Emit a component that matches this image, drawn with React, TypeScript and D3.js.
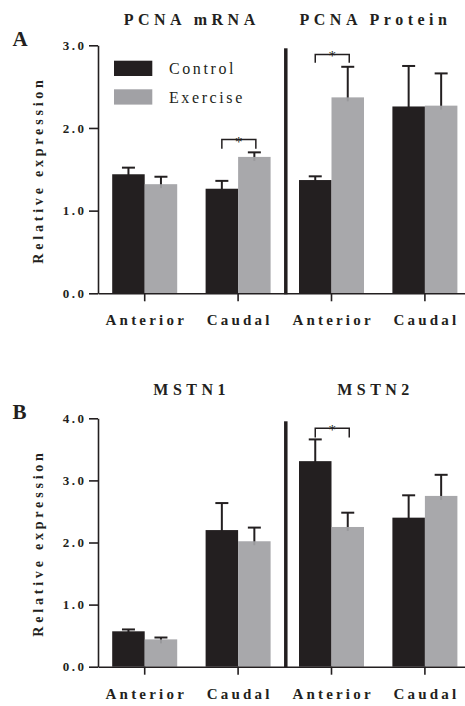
import { useRef, useEffect } from 'react'
import * as d3 from 'd3'

// Group labels along the x axis (two genes per panel, two regions each)
const groups = ['Anterior', 'Caudal', 'Anterior', 'Caudal']
const series = ['Control', 'Exercise']

// Panel A: PCNA mRNA / PCNA Protein
const titlesA = ['PCNA mRNA', 'PCNA Protein']
const controlA = [1.44, 1.265, 1.37, 2.26]
const controlErrA = [0.08, 0.095, 0.045, 0.49]
const exerciseA = [1.32, 1.65, 2.37, 2.27]
const exerciseErrA = [0.09, 0.055, 0.37, 0.39]
const ticksA = [0, 1, 2, 3]
const sigA = [
  { group: 1, top: 1.86, leg: 1.75 },
  { group: 2, top: 2.89, leg: 2.79 },
]

// Panel B: MSTN1 / MSTN2
const titlesB = ['MSTN1', 'MSTN2']
const controlB = [0.57, 2.2, 3.31, 2.4]
const controlErrB = [0.03, 0.435, 0.35, 0.36]
const exerciseB = [0.44, 2.02, 2.25, 2.75]
const exerciseErrB = [0.03, 0.22, 0.23, 0.34]
const ticksB = [0, 1, 2, 3, 4]
const sigB = [{ group: 2, top: 3.84, leg: 3.69 }]

const COLORS = { Control: '#231f20', Exercise: '#a1a1a5' }
const FONT = 'Liberation Serif, Times New Roman, DejaVu Serif'
const INK = '#231f20'

type Sig = { group: number; top: number; leg: number }

function drawPanel(
  svg: d3.Selection<SVGSVGElement, unknown, null, undefined>,
  opts: {
    letter: string
    letterY: number
    titles: string[]
    titleY: number
    control: number[]
    controlErr: number[]
    exercise: number[]
    exerciseErr: number[]
    ticks: number[]
    sig: Sig[]
    yTop: number
    yBottom: number
    labelY: number
  }
) {
  const x = d3.scaleBand<number>()
    .domain(d3.range(groups.length))
    .range([98, 471.6])
  const barW = 32.5
  const center = (i: number) => (x(i) as number) + x.bandwidth() / 2

  const y = d3.scaleLinear()
    .domain([0, d3.max(opts.ticks) as number])
    .range([opts.yBottom, opts.yTop])

  const g = svg.append('g')

  // Panel letter
  g.append('text')
    .attr('x', 12.5)
    .attr('y', opts.letterY)
    .style('font-family', FONT)
    .attr('font-weight', 'bold')
    .attr('font-size', 21)
    .attr('fill', INK)
    .text(opts.letter)

  // Titles over each pair of groups
  opts.titles.forEach((t, k) => {
    const cx = (center(k * 2) + center(k * 2 + 1)) / 2 - (k === 0 ? 2 : 5)
    g.append('text')
      .attr('x', cx + 2.3)
      .attr('y', opts.titleY)
      .attr('text-anchor', 'middle')
      .style('font-family', FONT)
      .attr('font-weight', 'bold')
      .attr('font-size', 16)
      .attr('letter-spacing', 4.5)
      .attr('fill', INK)
      .text(t)
  })

  // Bars
  const bars = [
    { name: 'Control', vals: opts.control, errs: opts.controlErr, off: -barW },
    { name: 'Exercise', vals: opts.exercise, errs: opts.exerciseErr, off: 0 },
  ]
  bars.forEach(s => {
    s.vals.forEach((v, i) => {
      const bx = center(i) + s.off
      const mid = bx + barW / 2
      // error whisker (upper only)
      g.append('line')
        .attr('x1', mid).attr('x2', mid)
        .attr('y1', y(v) + 4).attr('y2', y(v + s.errs[i]))
        .attr('stroke', INK).attr('stroke-width', 2)
      g.append('line')
        .attr('x1', mid - 6.5).attr('x2', mid + 6.5)
        .attr('y1', y(v + s.errs[i])).attr('y2', y(v + s.errs[i]))
        .attr('stroke', INK).attr('stroke-width', 2)
      g.append('rect')
        .attr('x', bx)
        .attr('y', y(v))
        .attr('width', barW)
        .attr('height', y(0) - y(v))
        .attr('fill', COLORS[s.name as keyof typeof COLORS])
        .attr('fill-opacity', s.name === 'Exercise' ? 0.93 : 1)
    })
  })

  // Significance brackets
  opts.sig.forEach(s => {
    const x1 = center(s.group) - barW / 2
    const x2 = center(s.group) + barW / 2 + 1.5
    g.append('path')
      .attr('d', `M${x1},${y(s.leg)}V${y(s.top)}H${x2}V${y(s.leg)}`)
      .attr('fill', 'none')
      .attr('stroke', INK)
      .attr('stroke-width', 1.5)
    g.append('text')
      .attr('x', (x1 + x2) / 2)
      .attr('y', y(s.top) + 7)
      .attr('text-anchor', 'middle')
      .style('font-family', FONT)
      .attr('font-size', 15)
      .attr('fill', INK)
      .text('*')
  })

  // Divider between the two genes
  g.append('line')
    .attr('x1', x(2) as number + 1).attr('x2', x(2) as number + 1)
    .attr('y1', y(d3.max(opts.ticks) as number) + 3)
    .attr('y2', y(0) + 1)
    .attr('stroke', INK)
    .attr('stroke-width', 3.5)

  // Y axis
  const yAxis = d3.axisLeft(y)
    .tickValues(opts.ticks)
    .tickSize(9)
    .tickSizeOuter(0)
    .tickPadding(5)
    .tickFormat(d => (d as number).toFixed(1))
  const ya = g.append('g')
    .attr('transform', 'translate(98,0)')
    .call(yAxis)
  ya.attr('font-family', null)
  ya.select('.domain').attr('stroke', INK).attr('stroke-width', 1.6)
  ya.selectAll('line').attr('stroke', INK).attr('stroke-width', 1.6)
  ya.selectAll('text')
    .style('font-family', FONT)
    .attr('font-weight', 'bold')
    .attr('font-size', 13)
    .attr('letter-spacing', 2.5)
    .attr('fill', INK)
    .attr('dx', 2.5)

  // X axis
  const xAxis = d3.axisBottom(x)
    .tickSize(8)
    .tickSizeOuter(0)
    .tickFormat(() => '')
  const xa = g.append('g')
    .attr('transform', `translate(0,${y(0)})`)
    .call(xAxis)
  xa.select('.domain').attr('stroke', INK).attr('stroke-width', 1.6)
  xa.selectAll('line').attr('stroke', INK).attr('stroke-width', 1.6)

  groups.forEach((gname, i) => {
    g.append('text')
      .attr('x', center(i) + 1.6)
      .attr('y', opts.yBottom + 32)
      .attr('text-anchor', 'middle')
      .style('font-family', FONT)
      .attr('font-weight', 'bold')
      .attr('font-size', 15)
      .attr('letter-spacing', 3.2)
      .attr('fill', INK)
      .text(gname)
  })

  // Y axis title
  g.append('text')
    .attr('transform', `translate(42.5,${opts.labelY}) rotate(-90)`)
    .attr('dx', 2)
    .attr('text-anchor', 'middle')
    .style('font-family', FONT)
    .attr('font-weight', 'bold')
    .attr('font-size', 14)
    .attr('letter-spacing', 3.8)
    .attr('fill', INK)
    .text('Relative expression')

  return { x, y }
}

export default function App() {
  const svgRef = useRef<SVGSVGElement>(null)

  useEffect(() => {
    if (!svgRef.current) return
    const svg = d3.select(svgRef.current)
    svg.selectAll('*').remove()

    drawPanel(svg, {
      letter: 'A', letterY: 46, titles: titlesA, titleY: 25,
      control: controlA, controlErr: controlErrA,
      exercise: exerciseA, exerciseErr: exerciseErrA,
      ticks: ticksA, sig: sigA, yTop: 45.3, yBottom: 293.3, labelY: 172,
    })
    drawPanel(svg, {
      letter: 'B', letterY: 419.3, titles: titlesB, titleY: 395,
      control: controlB, controlErr: controlErrB,
      exercise: exerciseB, exerciseErr: exerciseErrB,
      ticks: ticksB, sig: sigB, yTop: 418.3, yBottom: 666.7, labelY: 545,
    })

    // Legend (panel A)
    const legend = svg.append('g').attr('transform', 'translate(114,60.7)')
    series.forEach((name, i) => {
      const row = legend.append('g').attr('transform', `translate(0,${i * 28.6})`)
      row.append('rect')
        .attr('width', 38.3)
        .attr('height', 15.3)
        .attr('fill', COLORS[name as keyof typeof COLORS])
      row.append('text')
        .attr('x', 55)
        .attr('y', 13.5)
        .style('font-family', FONT)
        .attr('font-size', 16)
        .attr('letter-spacing', 2.6)
        .attr('fill', INK)
        .text(name)
    })
  }, [])

  return (
    <svg
      ref={svgRef}
      width={465}
      height={706}
      style={{ position: 'absolute', left: 0, top: 0, background: '#fff' }}
    />
  )
}
